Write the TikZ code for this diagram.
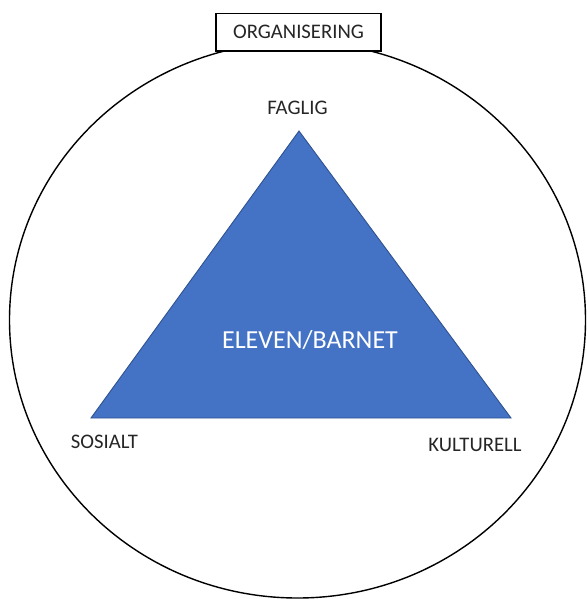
\documentclass[tikz,border=0pt]{standalone}
\usepackage{fontspec}
\setmainfont{Carlito}
\definecolor{trifill}{HTML}{4472C4}
\definecolor{triedge}{HTML}{2F528F}
\begin{document}
\begin{tikzpicture}[x=1pt,y=-1pt,
  lbl/.style={inner sep=0pt,font=\fontsize{20.7}{24}\selectfont,text=black!85},
  ring/.style={draw=black,line width=1.4pt},
  titlebox/.style={draw=black,line width=1.4pt,fill=white,minimum width=165pt,minimum height=37.5pt,inner sep=0pt,font=\fontsize{20.7}{24}\selectfont,text=black!85},
  tri/.style={fill=trifill,draw=triedge,line width=0.9pt,line join=miter}]
\useasboundingbox (0,0) rectangle (586,599);
\coordinate (c) at (297.5,320);
\draw[ring] (c) ellipse [x radius=288, y radius=278];
\node[titlebox] (org) at (298.5,32.25) {ORGANISERING};
\coordinate (top) at (299,131);
\coordinate (left) at (91,418);
\coordinate (right) at (511,418);
\draw[tri] (top) -- (left) -- (right) -- cycle;
\node[inner sep=0pt,font=\fontsize{26}{30}\selectfont,text=white] (elev) at (310,340) {ELEVEN/BARNET};
\node[lbl] (fag) at (297.5,108) {FAGLIG};
\node[lbl] (sos) at (104.5,442) {SOSIALT};
\node[lbl] (kul) at (475,445) {KULTURELL};
\end{tikzpicture}
\end{document}
